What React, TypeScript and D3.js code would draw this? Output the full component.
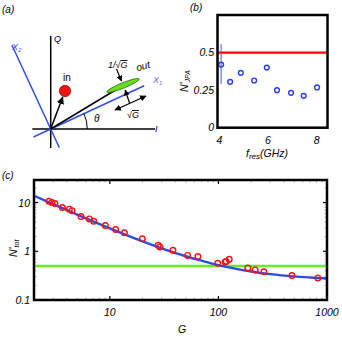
import React from "react";
import * as d3 from "d3";

// ---------- Data ----------
// Panel (b): N'_JPA vs f_res (GHz)
const fres = [4.07, 4.44, 4.88, 5.43, 5.95, 6.37, 6.95, 7.47, 8.02];
const nJPA = [0.42, 0.305, 0.365, 0.314, 0.40, 0.25, 0.232, 0.212, 0.268];
const errLow = [0.29];
const errHigh = [0.555];
const bLimit = [0.5];
const bXTicks = [4, 6, 8];
const bYTicks = [0, 0.25, 0.5];
const bYTickLabels = ["0", "0.25", "0.5"];

// Panel (c): N'_tot vs G
const gData = [2.75, 2.93, 3.12, 3.65, 4.23, 4.48, 5.42, 6.46, 7.1, 9.08, 11.3, 13.6, 19.9, 27.9, 28.9, 38.1, 52, 64.7, 98.4, 115, 118, 125.7, 186.6, 218, 262, 475, 824];
const nData = [10.6, 10.0, 9.5, 7.9, 7.3, 6.8, 5.15, 4.62, 4.13, 3.37, 2.79, 2.39, 1.8, 1.33, 1.23, 1.05, 0.82, 0.78, 0.567, 0.605, 0.62, 0.685, 0.456, 0.415, 0.378, 0.317, 0.284];
const gFit = [2, 3, 5, 7, 10, 15, 20, 30, 50, 70, 100, 150, 200, 300, 500, 700, 1000];
const nFit = [13.8, 9.3, 5.65, 4.1, 2.95, 2.05, 1.6, 1.15, 0.79, 0.64, 0.52, 0.43, 0.385, 0.34, 0.305, 0.29, 0.277];
const cLimit = [0.5];
const cXTicks = [10, 100, 1000];
const cXTickLabels = ["10", "100", "1000"];
const cYTicks = [0.1, 1, 10];
const cYTickLabels = ["0.1", "1", "10"];

const FONT = "'Liberation Sans', Arial, sans-serif";
const TS = 10.5;

function PanelA() {
  const O = { x: 50.7, y: 129 };
  const th = (24.8 * Math.PI) / 180;
  const u = { x: Math.cos(th), y: -Math.sin(th) };
  const v = { x: -Math.sin(th), y: -Math.cos(th) };
  const pt = (a: number, b: number) => ({ x: O.x + a * u.x + b * v.x, y: O.y + a * u.y + b * v.y });
  const x1a = pt(-19, 0), x1b = pt(103, 0);
  const x2a = pt(0, 92.6), x2b = pt(0, -20.7);
  const inC = { x: 65, y: 91 };
  const dIn = Math.hypot(inC.x - O.x, inC.y - O.y);
  const inEnd = { x: O.x + ((inC.x - O.x) * (dIn - 6.5)) / dIn, y: O.y + ((inC.y - O.y) * (dIn - 6.5)) / dIn };
  const out = { x: 123, y: 85.5 };
  const r = 36.6;
  const arc = `M ${O.x + r} ${O.y} A ${r} ${r} 0 0 0 ${O.x + r * Math.cos(th)} ${O.y - r * Math.sin(th)}`;
  return (
    <g fontFamily={FONT}>
      <text x={2} y={13} fontSize={10} fontStyle="italic">(a)</text>
      <line x1={32.3} y1={O.y} x2={155} y2={O.y} stroke="#000" strokeWidth={1.5} />
      <line x1={O.x} y1={36} x2={O.x} y2={148} stroke="#000" strokeWidth={1.5} />
      <line x1={x1a.x} y1={x1a.y} x2={x1b.x} y2={x1b.y} stroke="#2f4fe8" strokeWidth={1.5} />
      <line x1={x2a.x} y1={x2a.y} x2={x2b.x} y2={x2b.y} stroke="#2f4fe8" strokeWidth={1.5} />
      <path d={arc} fill="none" stroke="#000" strokeWidth={1} />
      <text x={94} y={122} fontSize={10} fontStyle="italic">θ</text>
      <text x={54} y={42} fontSize={9} fontStyle="italic">Q</text>
      <text x={155} y={132} fontSize={9} fontStyle="italic">I</text>
      <text x={12} y={50} fontSize={9} fontStyle="italic" fill="#2f4fe8">X<tspan fontSize={6} dy={2}>2</tspan></text>
      <text x={153} y={83} fontSize={9} fontStyle="italic" fill="#5a74f0">X<tspan fontSize={6} dy={2}>1</tspan></text>
      <line x1={O.x} y1={O.y} x2={inEnd.x} y2={inEnd.y} stroke="#000" strokeWidth={1.5} markerEnd="url(#arrA)" />
      <circle cx={inC.x} cy={inC.y} r={5.7} fill="#ee1111" stroke="#991111" strokeWidth={0.8} />
      <text x={63} y={81} fontSize={10}>in</text>
      <line x1={O.x} y1={O.y} x2={out.x} y2={out.y} stroke="#000" strokeWidth={1.5} />
      <ellipse cx={out.x} cy={out.y} rx={17.5} ry={2.7} transform={`rotate(-22 ${out.x} ${out.y})`} fill="#66dd22" stroke="#2a6010" strokeWidth={0.7} />
      <line x1={116.5} y1={69} x2={121.5} y2={81} stroke="#000" strokeWidth={1.2} markerEnd="url(#arrA)" />
      <line x1={129.5} y1={103} x2={125.2} y2={90} stroke="#000" strokeWidth={1.2} markerEnd="url(#arrA)" />
      <line x1={115} y1={110} x2={146} y2={96} stroke="#000" strokeWidth={1.3} markerStart="url(#arrA)" markerEnd="url(#arrA)" />
      <text x={108} y={68} fontSize={9} fontStyle="italic">1/√<tspan textDecoration="overline">G</tspan></text>
      <text x={127} y={118} fontSize={9} fontStyle="italic">√<tspan textDecoration="overline">G</tspan></text>
      <text x={136} y={70} fontSize={10} fontStyle="italic" transform="rotate(-15 141 66)">out</text>
    </g>
  );
}

function PanelB() {
  const x = d3.scaleLinear().domain([3.92, 8.45]).range([217.5, 327.5]);
  const y = d3.scaleLinear().domain([0, 0.75]).range([127.7, 15]);
  return (
    <g fontFamily={FONT}>
      <text x={190} y={11} fontSize={10} fontStyle="italic">(b)</text>
      <line x1={x(4.07)} y1={y(errLow[0])} x2={x(4.07)} y2={y(errHigh[0])} stroke="#7f8ff5" strokeWidth={1.5} />
      {bLimit.map((v, i) => (
        <line key={i} x1={x(3.92)} y1={y(v)} x2={x(8.45)} y2={y(v)} stroke="#ff0000" strokeWidth={2.2} />
      ))}
      {fres.map((f, i) => (
        <circle key={i} cx={x(f)} cy={y(nJPA[i])} r={2.4} fill="none" stroke="#2a3ff5" strokeWidth={1.4} />
      ))}
      <rect x={217.5} y={15} width={110} height={112.7} fill="none" stroke="#000" strokeWidth={2.5} />
      {bYTicks.map((t, i) => (
        <text key={i} x={214} y={y(t) + 3.5} fontSize={TS} fontStyle="italic" textAnchor="end">{bYTickLabels[i]}</text>
      ))}
      {bXTicks.map((t, i) => (
        <text key={i} x={x(t)} y={144} fontSize={TS} fontStyle="italic" textAnchor="middle">{t}</text>
      ))}
      <text x={246} y={157} fontSize={TS} fontStyle="italic">f<tspan fontSize={8} dy={2}>res</tspan><tspan dy={-2}>(GHz)</tspan></text>
      <text transform="translate(188 92) rotate(-90)" fontSize={TS} fontStyle="italic">N'<tspan fontSize={7} dy={2}>JPA</tspan></text>
    </g>
  );
}

function PanelC() {
  const x = d3.scaleLog().domain([2, 1000]).range([34, 327]);
  const y = d3.scaleLog().domain([0.1, 29]).range([300, 180]);
  const line = d3
    .line<number>()
    .x((_, i) => x(gFit[i]))
    .y((d) => y(d))
    .curve(d3.curveMonotoneX);
  const minorX: number[] = [];
  [1, 10, 100].forEach((dec) => {
    for (let k = 2; k <= 9; k++) {
      const val = dec * k;
      if (val > 2 && val < 1000 && val !== 10 && val !== 100) minorX.push(val);
    }
  });
  const minorY: number[] = [];
  [0.1, 1, 10].forEach((dec) => {
    for (let k = 2; k <= 9; k++) {
      const val = dec * k;
      if (val < 29) minorY.push(val);
    }
  });
  return (
    <g fontFamily={FONT}>
      <text x={2} y={179} fontSize={10} fontStyle="italic">(c)</text>
      {minorX.map((t, i) => (
        <g key={i}>
          <line x1={x(t)} x2={x(t)} y1={300} y2={297.5} stroke="#999" strokeWidth={0.8} />
          <line x1={x(t)} x2={x(t)} y1={180} y2={182.5} stroke="#999" strokeWidth={0.8} />
        </g>
      ))}
      {minorY.map((t, i) => (
        <g key={i}>
          <line x1={34} x2={36.5} y1={y(t)} y2={y(t)} stroke="#999" strokeWidth={0.8} />
          <line x1={327} x2={324.5} y1={y(t)} y2={y(t)} stroke="#999" strokeWidth={0.8} />
        </g>
      ))}
      {[10, 100].map((t, i) => (
        <g key={i}>
          <line x1={x(t)} x2={x(t)} y1={300} y2={296} stroke="#000" strokeWidth={1.2} />
          <line x1={x(t)} x2={x(t)} y1={180} y2={184} stroke="#000" strokeWidth={1.2} />
        </g>
      ))}
      {[1, 10].map((t, i) => (
        <g key={i}>
          <line x1={34} x2={38} y1={y(t)} y2={y(t)} stroke="#000" strokeWidth={1.2} />
          <line x1={327} x2={323} y1={y(t)} y2={y(t)} stroke="#000" strokeWidth={1.2} />
        </g>
      ))}
      {cLimit.map((v, i) => (
        <line key={i} x1={34} x2={327} y1={y(v)} y2={y(v)} stroke="#66ee22" strokeWidth={2.4} />
      ))}
      <path d={line(nFit) || ""} fill="none" stroke="#2a4de8" strokeWidth={2.4} />
      {gData.map((g, i) => (
        <circle key={i} cx={x(g)} cy={y(nData[i])} r={2.8} fill="none" stroke="#ff1010" strokeWidth={1.4} />
      ))}
      <rect x={34} y={180} width={293} height={120} fill="none" stroke="#000" strokeWidth={2.5} />
      {cYTicks.map((t, i) => (
        <text key={i} x={30} y={y(t) + 4} fontSize={TS} fontStyle="italic" textAnchor="end">{cYTickLabels[i]}</text>
      ))}
      {cXTicks.map((t, i) => (
        <text key={i} x={x(t)} y={316} fontSize={TS} fontStyle="italic" textAnchor="middle">{cXTickLabels[i]}</text>
      ))}
      <text x={178} y={333} fontSize={TS} fontStyle="italic">G</text>
      <text transform="translate(17 257) rotate(-90)" fontSize={TS} fontStyle="italic">N'<tspan fontSize={7} dy={2}>tot</tspan></text>
    </g>
  );
}

export default function App() {
  return (
    <svg width={342} height={337} style={{ position: "absolute", left: 0, top: 0, background: "#fff" }}>
      <defs>
        <marker id="arrA" viewBox="0 0 10 10" refX={9} refY={5} markerWidth={5} markerHeight={5} orient="auto-start-reverse">
          <path d="M0,0 L10,5 L0,10 z" fill="#000" />
        </marker>
      </defs>
      <rect width={342} height={337} fill="#fff" />
      <PanelA />
      <PanelB />
      <PanelC />
    </svg>
  );
}
